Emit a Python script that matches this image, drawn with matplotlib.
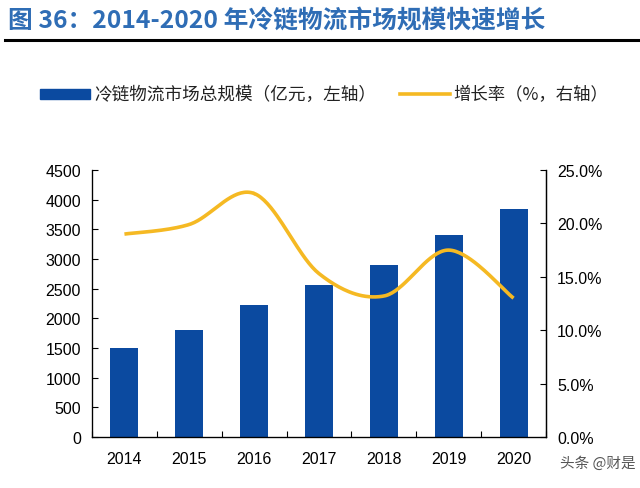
import numpy as np
import matplotlib
matplotlib.use("Agg")
import matplotlib.pyplot as plt
from matplotlib.patches import Rectangle
from matplotlib.lines import Line2D

years = ["2014", "2015", "2016", "2017", "2018", "2019", "2020"]
market_size = [1500, 1808, 2220, 2560, 2900, 3400, 3840]
growth_pct = [19.0, 19.9, 22.8, 15.3, 13.2, 17.5, 13.0]
left_ticks = [0, 500, 1000, 1500, 2000, 2500, 3000, 3500, 4000, 4500]
right_ticks = [0, 5, 10, 15, 20, 25]

title = "图 36：2014-2020 年冷链物流市场规模快速增长"
bar_label = "冷链物流市场总规模（亿元，左轴）"
line_label = "增长率（%，右轴）"
watermark = "头条 @财是"

BLUE = "#0B4AA0"
GOLD = "#F5B923"
CJK = ["Noto Sans CJK SC", "DejaVu Sans"]
NUM = ["Liberation Sans", "DejaVu Sans"]

W, H = 640, 489
fig = plt.figure(figsize=(W / 100, H / 100), dpi=100)

def fx(px):
    return px / W

def fy(py):
    return 1 - py / H

ax_left, ax_right, ax_top, ax_bot = 92, 546, 171, 438
ax = fig.add_axes([fx(ax_left), fy(ax_bot), fx(ax_right - ax_left), (ax_bot - ax_top) / H])
x = np.arange(len(years))
ax.bar(x, market_size, width=0.43, color=BLUE, zorder=2)
ax.set_xlim(-0.5, len(years) - 0.5)
ax.set_ylim(0, 4500)
ax.set_yticks(left_ticks)
ax.set_yticklabels([str(v) for v in left_ticks], fontfamily=NUM, fontsize=11.5)
ax.set_xticks(x)
ax.set_xticklabels(years, fontfamily=NUM, fontsize=11.5)
ax.tick_params(axis="x", length=0, pad=10)
ax.set_xticks(np.arange(-0.5, len(years), 1.0), minor=True)
ax.tick_params(axis="x", which="minor", direction="in", length=4, width=0.8)
ax.tick_params(axis="y", direction="in", length=4, width=0.8, pad=8)
ax.spines["top"].set_visible(False)
for s in ["left", "bottom", "right"]:
    ax.spines[s].set_linewidth(0.9)

ax2 = ax.twinx()
ax2.set_ylim(0, 25)
ax2.set_yticks(right_ticks)
ax2.set_yticklabels([f"{v:.1f}%" for v in right_ticks], fontfamily=NUM, fontsize=11.5)
ax2.tick_params(axis="y", direction="in", length=4, width=0.8, pad=8)
ax2.spines["top"].set_visible(False)
ax2.spines["right"].set_linewidth(0.9)

# Smoothed line (Catmull-Rom through the data points, like Excel smoothing)
def catmull_rom(xs, ys, n=40):
    pts = np.column_stack([xs, ys]).astype(float)
    P = np.vstack([pts[0], pts, pts[-1]])
    out = []
    for i in range(1, len(P) - 2):
        p0, p1, p2, p3 = P[i - 1], P[i], P[i + 1], P[i + 2]
        t = np.linspace(0, 1, n)[:, None]
        c = 0.5 * ((2 * p1) + (-p0 + p2) * t + (2 * p0 - 5 * p1 + 4 * p2 - p3) * t ** 2
                   + (-p0 + 3 * p1 - 3 * p2 + p3) * t ** 3)
        out.append(c)
    c = np.vstack(out)
    return c[:, 0], c[:, 1]

sx, sy = catmull_rom(x, growth_pct)
ax2.plot(sx, sy, color=GOLD, lw=2.6, solid_capstyle="butt", zorder=3)

# Title and rule
fig.text(fx(8), fy(21), title, fontfamily=CJK, fontsize=17.8, fontweight="bold",
         color="#2F6DB5", va="center", ha="left")
fig.add_artist(Line2D([fx(5), fx(640)], [fy(41), fy(41)], color="black", lw=2.2))

# Legend
fig.add_artist(Rectangle((fx(40), fy(100)), fx(50), 10 / H, color=BLUE))
fig.text(fx(94), fy(95), bar_label, fontfamily=CJK, fontsize=12.7, va="center", ha="left", color="#222222")
fig.add_artist(Line2D([fx(400), fx(450)], [fy(95), fy(95)], color=GOLD, lw=2.6))
fig.text(fx(453), fy(95), line_label, fontfamily=CJK, fontsize=12.5, va="center", ha="left", color="#222222")

fig.text(fx(560), fy(464), watermark, fontfamily=CJK, fontsize=10.5, va="center", ha="left", color="#555555")

fig.savefig("out.png", dpi=100)
